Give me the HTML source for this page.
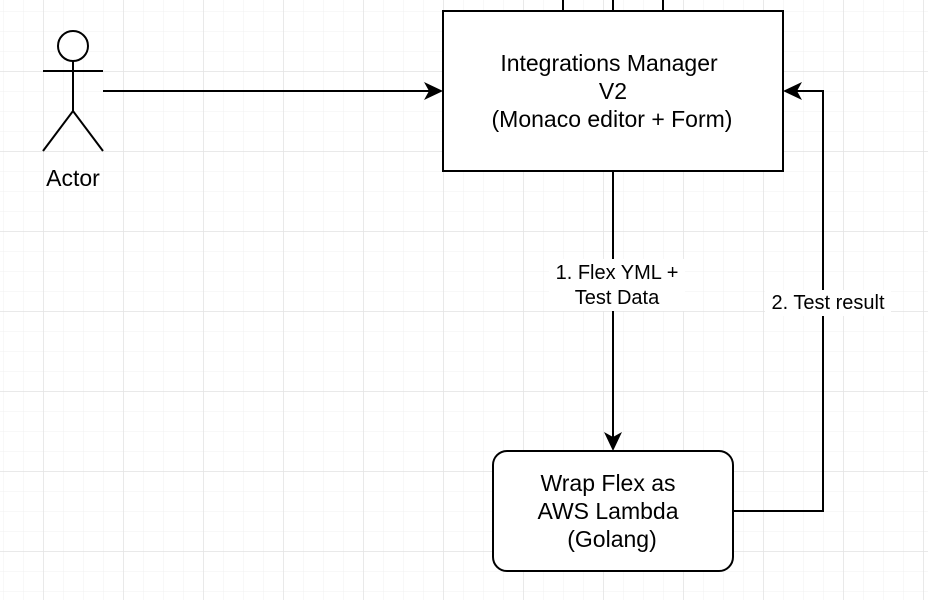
<!DOCTYPE html>
<html><head><meta charset="utf-8"><style>html,body{margin:0;padding:0;background:#fff}svg{display:block}</style></head>
<body>
<svg width="928" height="600" xmlns="http://www.w3.org/2000/svg" font-family="Liberation Sans, Arial, sans-serif">
<defs>
<pattern id="minor" x="3" y="11" width="20" height="20" patternUnits="userSpaceOnUse">
<path d="M0 0H20M0 0V20" stroke="#f0f0f0" stroke-width="1" fill="none"/>
</pattern>
<pattern id="major" x="43" y="71" width="80" height="80" patternUnits="userSpaceOnUse">
<path d="M0 0H80M0 0V80" stroke="#e2e2e2" stroke-width="1.5" fill="none"/>
</pattern>
</defs>
<rect width="928" height="600" fill="url(#minor)"/>
<rect width="928" height="600" fill="url(#major)"/>
<g stroke="#000" stroke-width="2" fill="none">
<circle cx="73" cy="46" r="15" fill="#fff"/>
<path d="M73 61V111M43 71H103M43 151L73 111L103 151"/>
<path d="M563 0V11M613 0V11M663 0V11"/>
<rect x="443" y="11" width="340" height="160" fill="#fff"/>
<rect x="493" y="451" width="240" height="120" rx="14" fill="#fff"/>
<path d="M103 91H432"/>
<path d="M613 171V440"/>
<path d="M733 511H823V91H794"/>
</g>
<g fill="#000" stroke="none">
<path d="M443 91L424 82L429 91L424 100Z"/>
<path d="M613 451L604 432L613 437L622 432Z"/>
<path d="M783 91L802 82L797 91L802 100Z"/>
</g>
<rect x="549" y="259" width="136" height="52" fill="#fff"/>
<rect x="765" y="290" width="126" height="26" fill="#fff"/>
<g font-size="23" text-anchor="middle" fill="#000">
<text x="609" y="71">Integrations Manager</text>
<text x="613" y="99">V2</text>
<text x="612" y="127">(Monaco editor + Form)</text>
<text x="608" y="491">Wrap Flex as</text>
<text x="608" y="519">AWS Lambda</text>
<text x="612" y="547">(Golang)</text>
<text x="73" y="186">Actor</text>
</g>
<g font-size="20" text-anchor="middle" fill="#000">
<text x="617" y="279">1. Flex YML +</text>
<text x="617" y="304">Test Data</text>
<text x="828" y="309">2. Test result</text>
</g>
</svg>
</body></html>
